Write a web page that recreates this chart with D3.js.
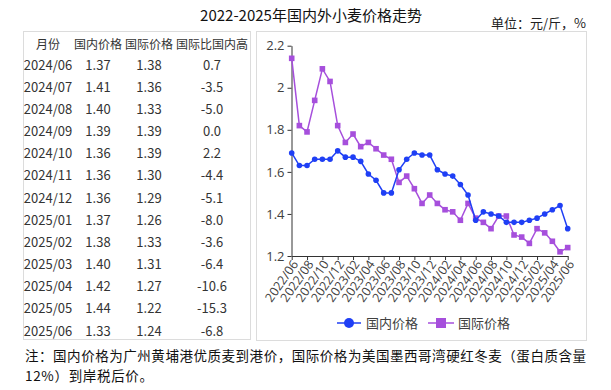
<!DOCTYPE html>
<html>
<head>
<meta charset="utf-8">
<script src="https://cdn.jsdelivr.net/npm/d3@7"></script>
<style>
  body { margin: 0; background: #fff; }
  text { font-family: "Noto Sans CJK SC", "Noto Sans", sans-serif; }
</style>
</head>
<body>
<script>
var w = 611;
var h = 390;

// data
var months = ["2022/06","2022/07","2022/08","2022/09","2022/10","2022/11","2022/12",
              "2023/01","2023/02","2023/03","2023/04","2023/05","2023/06","2023/07",
              "2023/08","2023/09","2023/10","2023/11","2023/12","2024/01","2024/02",
              "2024/03","2024/04","2024/05","2024/06","2024/07","2024/08","2024/09",
              "2024/10","2024/11","2024/12","2025/01","2025/02","2025/03","2025/04",
              "2025/05","2025/06"];
var domestic = [1.69,1.63,1.63,1.66,1.66,1.66,1.70,1.67,1.67,1.65,1.59,1.56,1.50,1.50,
                1.61,1.66,1.69,1.68,1.68,1.61,1.59,1.58,1.54,1.49,1.37,1.41,1.40,1.39,
                1.36,1.36,1.36,1.37,1.38,1.40,1.42,1.44,1.33];
var intl = [2.14,1.82,1.79,1.94,2.09,2.03,1.82,1.74,1.78,1.72,1.74,1.71,1.68,1.66,
            1.55,1.58,1.52,1.45,1.49,1.45,1.42,1.41,1.37,1.45,1.38,1.36,1.33,1.39,
            1.39,1.30,1.29,1.26,1.33,1.31,1.27,1.22,1.24];

// table on the left
var tableHead = ["月份","国内价格","国际价格","国际比国内高"];
var tableMonths = ["2024/06","2024/07","2024/08","2024/09","2024/10","2024/11","2024/12",
                   "2025/01","2025/02","2025/03","2025/04","2025/05","2025/06"];
var tableDom = ["1.37","1.41","1.40","1.39","1.36","1.36","1.36","1.37","1.38","1.40","1.42","1.44","1.33"];
var tableIntl = ["1.38","1.36","1.33","1.39","1.39","1.30","1.29","1.26","1.33","1.31","1.27","1.22","1.24"];
var tableDiff = ["0.7","-3.5","-5.0","0.0","2.2","-4.4","-5.1","-8.0","-3.6","-6.4","-10.6","-15.3","-6.8"];

var yTicks = [1.2,1.4,1.6,1.8,2.0,2.2];

var blue = "#1f3ff5";
var purple = "#a64fdc";

var svg = d3.select("body").append("svg")
          .attr("width", w)
          .attr("height", h);

// title + unit
svg.append("text")
   .attr("x", 311)
   .attr("y", 21)
   .attr("text-anchor", "middle")
   .attr("font-size", 15)
   .attr("fill", "#111")
   .text("2022-2025年国内外小麦价格走势");

svg.append("text")
   .attr("x", 586)
   .attr("y", 28)
   .attr("text-anchor", "end")
   .attr("font-size", 13)
   .attr("fill", "#222")
   .text("单位：元/斤，%");

// panels
svg.append("rect")
   .attr("x", 23.5).attr("y", 31.5)
   .attr("width", 227).attr("height", 308)
   .attr("fill", "none")
   .attr("stroke", "#dcdcdc");

svg.append("rect")
   .attr("x", 256.5).attr("y", 31.5)
   .attr("width", 330).attr("height", 309)
   .attr("fill", "none")
   .attr("stroke", "#dcdcdc");

// table
var colX = [48, 98, 149, 212];
var rowY = d3.scaleLinear().domain([0, tableMonths.length - 1]).range([65, 331]);

svg.append("g").selectAll("text")
   .data(tableHead)
   .join("text")
   .attr("x", function(d, i) { return colX[i]; })
   .attr("y", 49)
   .attr("text-anchor", "middle")
   .attr("font-size", 12)
   .attr("fill", "#333")
   .text(function(d) { return d; });

var cols = [tableMonths, tableDom, tableIntl, tableDiff];
cols.forEach(function(col, ci) {
  svg.append("g").selectAll("text")
     .data(col)
     .join("text")
     .attr("x", colX[ci])
     .attr("y", function(d, i) { return rowY(i) + 4.5; })
     .attr("text-anchor", "middle")
     .attr("font-size", 13)
     .attr("fill", "#333")
     .text(function(d) { return d; });
});

// chart
var x = d3.scalePoint().domain(months).range([291.7, 567.7]);
var y = d3.scaleLinear().domain([1.2, 2.2]).range([256, 45.7]);

var yAxis = svg.append("g")
   .attr("transform", "translate(291.5,0)")
   .call(d3.axisLeft(y).tickValues(yTicks).tickSize(4).tickSizeOuter(0)
          .tickFormat(function(d) { return d3.format("")(+d.toFixed(1)); }));
yAxis.select(".domain").attr("stroke", "#333");
yAxis.selectAll("line").attr("stroke", "#333");
yAxis.selectAll("text")
     .attr("font-size", 13)
     .attr("fill", "#404040")
     .attr("x", -7)
     .style("font-family", "'Open Sans', 'Noto Sans', sans-serif");

var xAxis = svg.append("g")
   .attr("transform", "translate(0,256)")
   .call(d3.axisBottom(x)
          .tickValues(months.filter(function(d, i) { return i % 2 === 0; }))
          .tickSize(4).tickSizeOuter(0));
xAxis.select(".domain").attr("stroke", "#333");
xAxis.selectAll("line").attr("stroke", "#333");
xAxis.selectAll("text")
     .attr("font-size", 12.5)
     .attr("fill", "#404040")
     .attr("text-anchor", "end")
     .attr("dy", "0.35em")
     .attr("transform", "translate(2,0) rotate(-55)")
     .attr("x", -4)
     .attr("y", 4)
     .style("font-family", "'Open Sans', 'Noto Sans', sans-serif");

var line = d3.line()
   .x(function(d, i) { return x(months[i]); })
   .y(function(d) { return y(d); });

svg.append("path")
   .datum(intl)
   .attr("d", line)
   .attr("fill", "none")
   .attr("stroke", purple)
   .attr("stroke-width", 1.5);

svg.append("g").selectAll("rect")
   .data(intl)
   .join("rect")
   .attr("x", function(d, i) { return x(months[i]) - 2.8; })
   .attr("y", function(d) { return y(d) - 2.8; })
   .attr("width", 5.6)
   .attr("height", 5.6)
   .attr("fill", purple);

svg.append("path")
   .datum(domestic)
   .attr("d", line)
   .attr("fill", "none")
   .attr("stroke", blue)
   .attr("stroke-width", 1.5);

svg.append("g").selectAll("circle")
   .data(domestic)
   .join("circle")
   .attr("cx", function(d, i) { return x(months[i]); })
   .attr("cy", function(d) { return y(d); })
   .attr("r", 2.8)
   .attr("fill", blue);

// legend
var legend = svg.append("g");
legend.append("line")
   .attr("x1", 337).attr("x2", 361).attr("y1", 323).attr("y2", 323)
   .attr("stroke", blue).attr("stroke-width", 1.5);
legend.append("circle")
   .attr("cx", 349).attr("cy", 323).attr("r", 5)
   .attr("fill", blue);
legend.append("text")
   .attr("x", 366).attr("y", 327.5)
   .attr("font-size", 13).attr("fill", "#404040")
   .text("国内价格");
legend.append("line")
   .attr("x1", 428).attr("x2", 454).attr("y1", 323).attr("y2", 323)
   .attr("stroke", purple).attr("stroke-width", 1.5);
legend.append("rect")
   .attr("x", 436).attr("y", 318).attr("width", 10).attr("height", 10)
   .attr("fill", purple);
legend.append("text")
   .attr("x", 458).attr("y", 327.5)
   .attr("font-size", 13).attr("fill", "#404040")
   .text("国际价格");

// note
svg.append("text")
   .attr("x", 25).attr("y", 361)
   .attr("font-size", 13.5).attr("fill", "#111")
   .attr("textLength", 561)
   .attr("lengthAdjust", "spacing")
   .text("注：国内价格为广州黄埔港优质麦到港价，国际价格为美国墨西哥湾硬红冬麦（蛋白质含量");
svg.append("text")
   .attr("x", 25).attr("y", 381)
   .attr("font-size", 13.5).attr("fill", "#111")
   .attr("textLength", 128)
   .attr("lengthAdjust", "spacing")
   .text("12%）到岸税后价。");
</script>
</body>
</html>
